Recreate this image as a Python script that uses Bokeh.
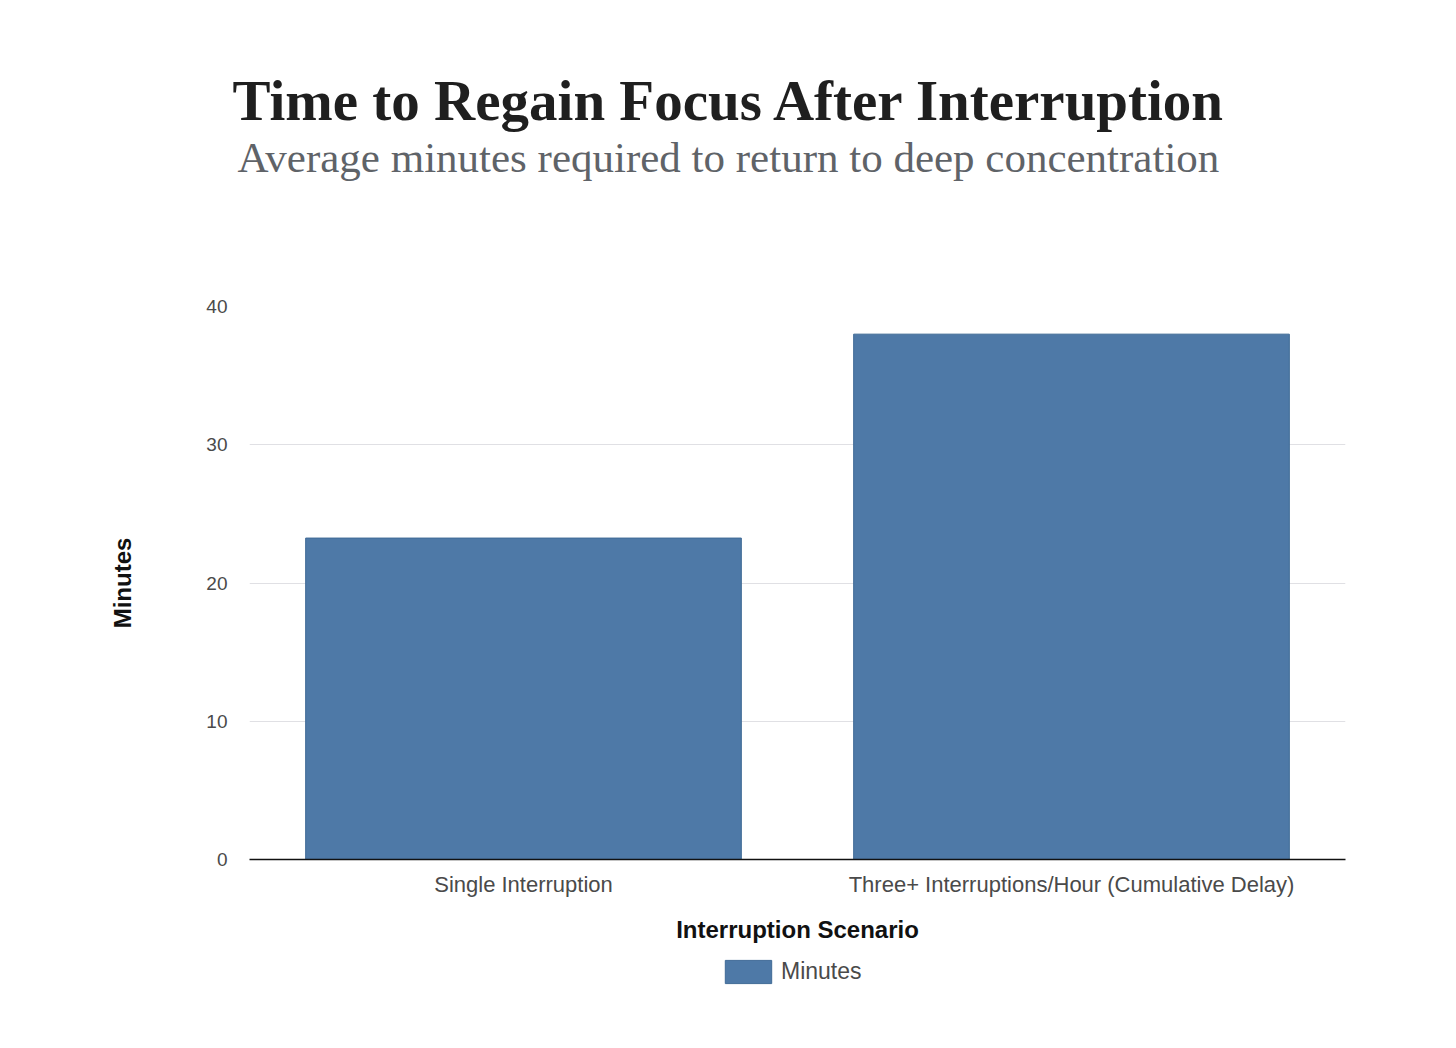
from bokeh.plotting import figure
from bokeh.layouts import column
from bokeh.models import Title, Legend, LegendItem, ColumnDataSource
from bokeh.embed import file_html
from bokeh.resources import INLINE

# Data
scenarios = ["Single Interruption", "Three+ Interruptions/Hour (Cumulative Delay)"]
minutes = [23.25, 38.0]
y_ticks = [0, 10, 20, 30, 40]

BAR_FILL = "#4e79a7"
BAR_EDGE = "#3f6a96"
SANS = "Liberation Sans"
SERIF = "Liberation Serif"

PAGE_W, PAGE_H = 1456, 1048
LEFT, RIGHT, TOP, BOTTOM = 249, 111, 306, 95
FRAME_W, FRAME_H = 1096, 553
LEGEND_H = PAGE_H - TOP - FRAME_H - BOTTOM

source = ColumnDataSource(data=dict(scenario=scenarios, minutes=minutes))

# Main chart with a fixed plotting frame
p = figure(
    frame_width=FRAME_W, frame_height=FRAME_H,
    x_range=scenarios, y_range=(0, 40),
    output_backend="svg", toolbar_location=None,
    min_border_left=LEFT, min_border_right=RIGHT,
    min_border_top=TOP, min_border_bottom=BOTTOM,
    outline_line_color=None,
)
p.background_fill_color = "white"
p.border_fill_color = "white"

bars = p.vbar(x="scenario", top="minutes", width=0.795, source=source,
              fill_color=BAR_FILL, line_color=BAR_EDGE, line_width=1)

# Heading block (later additions sit further from the plot);
# a blank spacer keeps the heading clear of the plotting area
p.add_layout(Title(text=" ", text_font_size="10px", standoff=113), "above")
p.add_layout(Title(text="Average minutes required to return to deep concentration",
                   align="left", offset=-12, standoff=0,
                   text_font=SERIF, text_font_size="43px", text_font_style="normal",
                   text_color="#5f6368"), "above")
p.add_layout(Title(text="Time to Regain Focus After Interruption",
                   align="left", offset=-17, standoff=0,
                   text_font=SERIF, text_font_size="57px", text_font_style="bold",
                   text_color="#1f1f1f"), "above")

# Grid
p.xgrid.grid_line_color = None
p.ygrid.grid_line_color = "#e0e0e4"
p.ygrid.grid_line_width = 1
p.ygrid.ticker = y_ticks

# Y axis
p.yaxis.ticker = y_ticks
p.yaxis.axis_line_color = None
p.yaxis.major_tick_line_color = None
p.yaxis.major_tick_out = 0
p.yaxis.minor_tick_line_color = None
p.yaxis.major_label_text_font = SANS
p.yaxis.major_label_text_font_size = "19px"
p.yaxis.major_label_text_color = "#4a4a4a"
p.yaxis.major_label_standoff = 22
p.yaxis.axis_label = "Minutes"
p.yaxis.axis_label_text_font = SANS
p.yaxis.axis_label_text_font_size = "24px"
p.yaxis.axis_label_text_font_style = "bold"
p.yaxis.axis_label_text_color = "#111111"
p.yaxis.axis_label_standoff = 67

# X axis
p.xaxis.axis_line_color = "#111111"
p.xaxis.axis_line_width = 1.5
p.xaxis.major_tick_line_color = None
p.xaxis.major_tick_out = 0
p.xaxis.minor_tick_line_color = None
p.xaxis.major_label_text_font = SANS
p.xaxis.major_label_text_font_size = "22px"
p.xaxis.major_label_text_color = "#4a4a4a"
p.xaxis.major_label_standoff = 12
p.xaxis.axis_label = "Interruption Scenario"
p.xaxis.axis_label_text_font = SANS
p.xaxis.axis_label_text_font_size = "24px"
p.xaxis.axis_label_text_font_style = "bold"
p.xaxis.axis_label_text_color = "#111111"
p.xaxis.axis_label_standoff = 16

# Legend strip under the chart (its frame lines up with the chart's frame)
leg = figure(
    width=PAGE_W, height=LEGEND_H,
    x_range=scenarios, y_range=(0, 40),
    x_axis_location=None, y_axis_location=None,
    output_backend="svg", toolbar_location=None,
    min_border=0, outline_line_color=None,
)
leg.grid.grid_line_color = None
leg.border_fill_color = "white"
key = leg.vbar(x="scenario", top="minutes", width=0.795, source=source,
               fill_color=BAR_FILL, line_color=BAR_EDGE, line_width=1, visible=False)
legend = Legend(items=[LegendItem(label="Minutes", renderers=[key])],
                location=(470, 62), orientation="horizontal",
                glyph_width=58, glyph_height=29,
                label_text_font=SANS, label_text_font_size="23px",
                label_text_color="#4a4a4a", label_standoff=4,
                border_line_color=None, background_fill_alpha=0,
                padding=4, margin=0)
leg.add_layout(legend, "center")

page = column(p, leg, spacing=0)
open("out.html", "w").write(file_html(page, INLINE))
